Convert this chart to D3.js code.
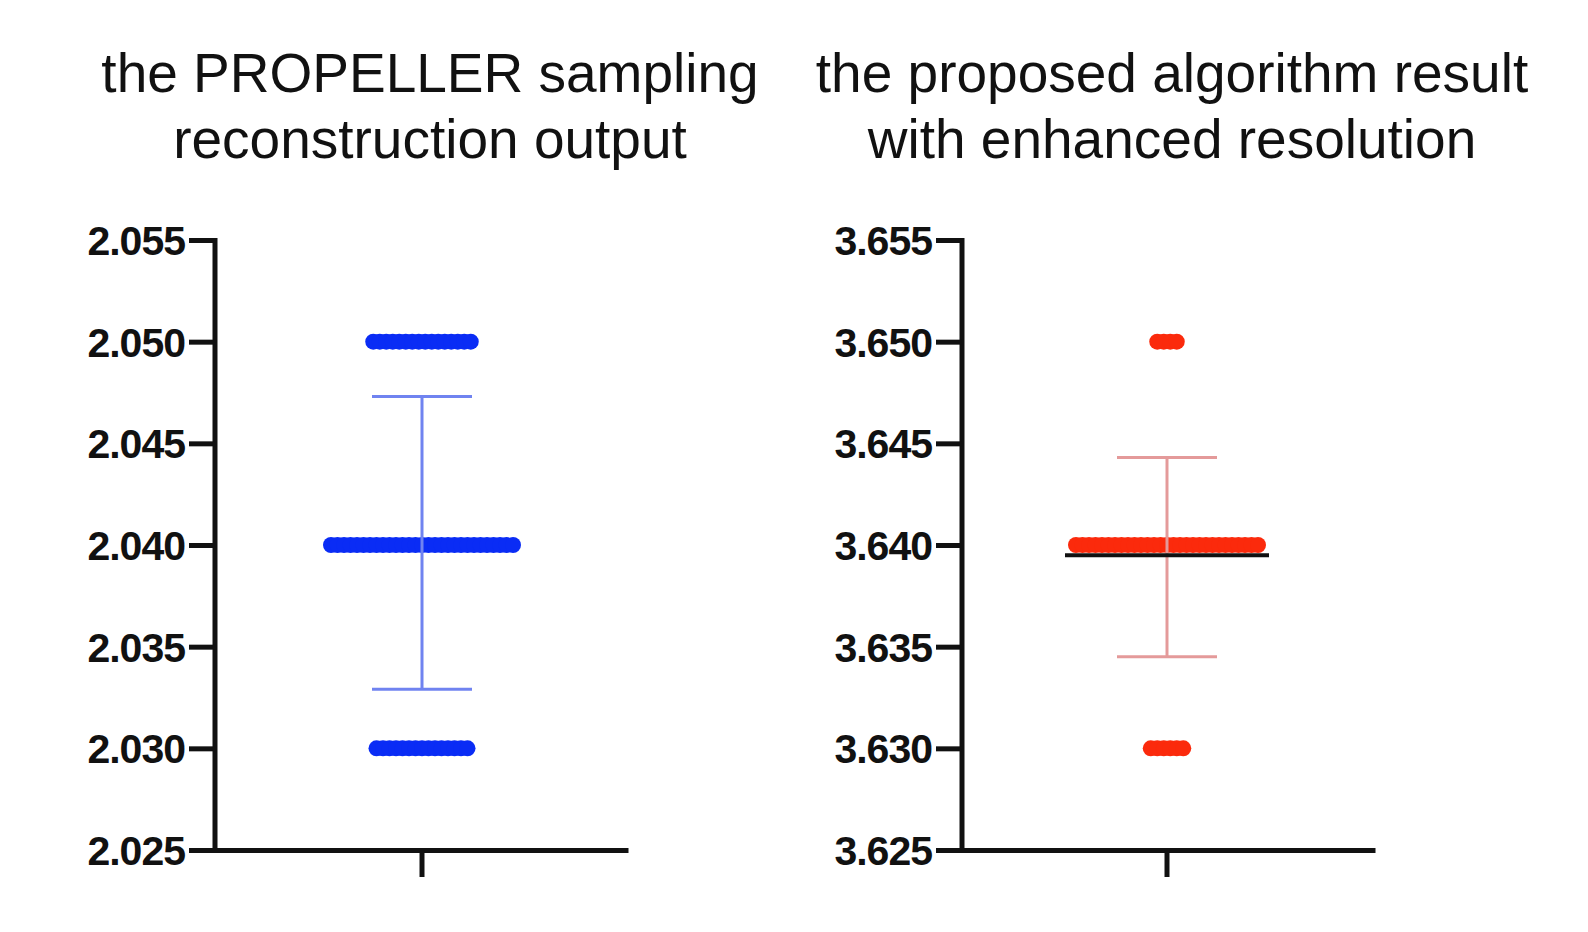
<!DOCTYPE html>
<html><head><meta charset="utf-8">
<script src="https://cdn.jsdelivr.net/npm/d3@7"></script>
<style>body{margin:0;background:#fff}text{font-family:"Liberation Sans",Arial,sans-serif}</style>
</head><body>
<svg width="1588" height="932"></svg>
<script>
var svg = d3.select('svg');

// values and how many points sit at each one
var leftLevels = [2.050, 2.040, 2.030];
var leftCounts = [16, 29, 15];
var leftErr = [2.0329, 2.0473];
var leftTicks = [2.025, 2.030, 2.035, 2.040, 2.045, 2.050, 2.055];

var rightLevels = [3.650, 3.640, 3.630];
var rightCounts = [4, 29, 6];
var rightErr = [3.6345, 3.6443];
var rightMean = 3.6395;
var rightTicks = [3.625, 3.630, 3.635, 3.640, 3.645, 3.650, 3.655];

function panel(opt) {
  var y = d3.scaleLinear().domain(opt.domain).range([850, 240]);
  var g = svg.append('g');

  // title
  var t = g.append('text').attr('text-anchor', 'middle').attr('font-size', 55).attr('fill', '#111');
  opt.title.forEach(function(line, i) {
    t.append('tspan').attr('x', opt.titleX).attr('y', 92 + i * 66).text(line);
  });

  // y axis
  var yAxis = d3.axisLeft(y).tickValues(opt.ticks).tickFormat(d3.format('.3f')).tickSize(26).tickPadding(4);
  var ya = g.append('g').attr('transform', 'translate(' + opt.x0 + ',0)').call(yAxis);
  ya.select('.domain').attr('stroke', '#111').attr('stroke-width', 5).attr('d', 'M0,238V852');
  ya.selectAll('.tick line').attr('stroke', '#111').attr('stroke-width', 5);
  ya.selectAll('.tick text').attr('font-size', 41).attr('font-weight', 'bold').attr('fill', '#111')
    .attr('letter-spacing', -1).attr('dy', '0.35em');

  // x axis
  var x = d3.scaleLinear().domain([0, 1]).range([opt.x0 - 25, opt.x1]);
  var xa = g.append('g').attr('transform', 'translate(0,850)')
    .call(d3.axisBottom(x).tickValues([]).tickSizeOuter(0));
  xa.select('.domain').attr('stroke', '#111').attr('stroke-width', 5);
  g.append('line').attr('x1', opt.cx).attr('x2', opt.cx).attr('y1', 850).attr('y2', 877)
    .attr('stroke', '#111').attr('stroke-width', 5);

  // points
  opt.levels.forEach(function(v, i) {
    var n = opt.counts[i];
    var pts = d3.range(n).map(function(k) { return opt.cx + (k - (n - 1) / 2) * 6.5; });
    g.selectAll(null).data(pts).enter().append('circle')
      .attr('cx', function(d) { return d; }).attr('cy', y(v)).attr('r', 8).attr('fill', opt.color);
  });

  // error bar
  var eb = g.append('g').attr('stroke', opt.errColor).attr('stroke-width', 3);
  eb.append('line').attr('x1', opt.cx).attr('x2', opt.cx).attr('y1', y(opt.err[0])).attr('y2', y(opt.err[1]));
  opt.err.forEach(function(v) {
    eb.append('line').attr('x1', opt.cx - 50).attr('x2', opt.cx + 50).attr('y1', y(v)).attr('y2', y(v));
  });

  if (opt.mean != null) {
    g.append('line').attr('x1', opt.cx - 102).attr('x2', opt.cx + 102).attr('y1', y(opt.mean)).attr('y2', y(opt.mean))
      .attr('stroke', '#111').attr('stroke-width', 4);
  }
}

panel({domain: [2.025, 2.055], ticks: leftTicks, x0: 215, x1: 628, cx: 422,
  levels: leftLevels, counts: leftCounts, err: leftErr, color: '#0a2cf5', errColor: '#7083f0',
  title: ['the PROPELLER sampling', 'reconstruction output'], titleX: 430});
panel({domain: [3.625, 3.655], ticks: rightTicks, x0: 962, x1: 1375, cx: 1167,
  levels: rightLevels, counts: rightCounts, err: rightErr, mean: rightMean, color: '#fb2a0c', errColor: '#e49a9a',
  title: ['the proposed algorithm result', 'with enhanced resolution'], titleX: 1172});
</script>
</body></html>
